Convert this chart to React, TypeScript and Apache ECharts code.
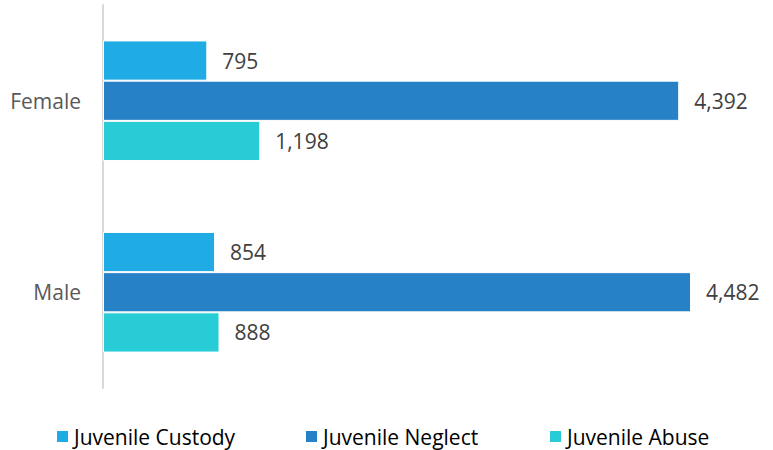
import React, { useEffect, useRef } from "react";
import * as echarts from "echarts";

const categories = ["Female", "Male"];
const seriesNames = ["Juvenile Custody", "Juvenile Neglect", "Juvenile Abuse"];
const custody = [795, 854];
const neglect = [4392, 4482];
const abuse = [1198, 888];
const colors = ["#1FABE3", "#2681C6", "#28CCD6"];
const legendLefts = [55, 304, 548];

export default function App() {
  const ref = useRef<HTMLDivElement>(null);
  useEffect(() => {
    const chart = echarts.init(ref.current!, null, { renderer: "svg" });
    const font = "'Open Sans', 'Noto Sans', sans-serif";
    const data = [custody, neglect, abuse];
    chart.setOption({
      animation: false,
      textStyle: { fontFamily: font },
      grid: { left: 103, right: 14, top: 5, bottom: 62, containLabel: false },
      xAxis: { type: "value", min: 0, max: 5000, show: false },
      yAxis: {
        type: "category",
        data: categories,
        inverse: true,
        axisLine: { show: true, lineStyle: { color: "#D9D9D9", width: 2 } },
        axisTick: { show: false },
        axisLabel: { fontSize: 21, color: "#595959", margin: 22, fontFamily: font },
      },
      legend: seriesNames.map((n, i) => ({
        top: 426,
        left: legendLefts[i],
        padding: 0,
        itemWidth: 13,
        itemHeight: 13,
        icon: "rect",
        textStyle: { fontSize: 21, lineHeight: 21, color: "#000000", fontFamily: font },
        data: [n],
      })),
      series: seriesNames.map((name, i) => ({
        name,
        type: "bar",
        data: data[i],
        barGap: "0%",
        barCategoryGap: "37%",
        itemStyle: { color: colors[i], borderColor: "#ffffff", borderWidth: 1 },
        label: {
          show: true,
          position: "right",
          distance: 15,
          fontSize: 21,
          color: "#404040",
          fontFamily: font,
          formatter: (p: any) => Number(p.value).toLocaleString("en-US"),
        },
      })),
    });
    return () => chart.dispose();
  }, []);
  return <div ref={ref} style={{ position: "absolute", left: 0, top: 0, width: 773, height: 450 }} />;
}
